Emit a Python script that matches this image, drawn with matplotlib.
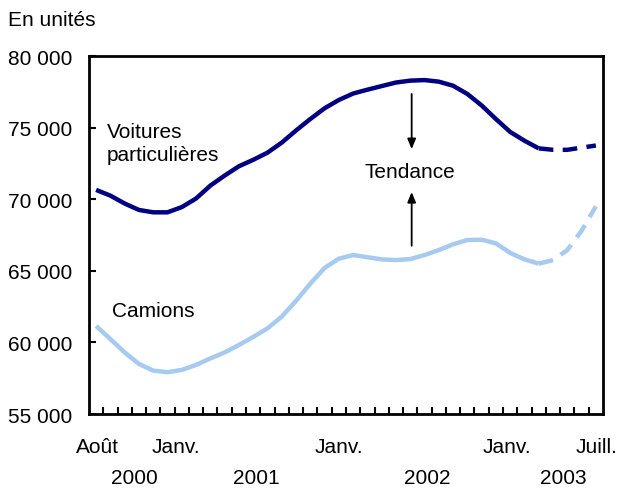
import matplotlib
matplotlib.use("Agg")
import matplotlib.pyplot as plt
import matplotlib.transforms as mtransforms

plt.rcParams['font.family'] = ['Liberation Sans', 'DejaVu Sans']

# monthly trend, Aug 2000 .. Jul 2003 (last months are projected -> dashed)
voitures = [70650, 70250, 69700, 69250, 69085, 69085, 69450, 70050, 70950, 71650,
            72300, 72750, 73250, 73950, 74800, 75600, 76350, 76930, 77380, 77650,
            77900, 78150, 78280, 78320, 78210, 77925, 77350, 76550, 75600, 74700,
            74085, 73550, 73450, 73450, 73600, 73750]
camions = [61150, 60230, 59300, 58500, 58030, 57920, 58080, 58430, 58880, 59300,
           59820, 60380, 60980, 61800, 62900, 64100, 65200, 65850, 66100, 65950,
           65800, 65750, 65820, 66100, 66450, 66850, 67150, 67170, 66920, 66250,
           65800, 65500, 65750, 66450, 67800, 69500]
n_solid = 32  # points drawn solid, rest dashed

month_labels = ["Août", "Janv.", "Janv.", "Janv.", "Juill."]
month_pos = [0.06, 5.6, 17, 28.8, 35.05]
year_labels = ["2000", "2001", "2002", "2003"]
year_pos = [2.7, 11.2, 23.2, 32.7]
yticks = [55000, 60000, 65000, 70000, 75000, 80000]

dark = '#000080'
light = '#A6CAF0'
fs = 15

fig = plt.figure(figsize=(6.17, 4.89), dpi=100)
ax = fig.add_axes([0.1442, 0.1513, 0.8331, 0.7321])

x = list(range(len(voitures)))
for data, col in [(voitures, dark), (camions, light)]:
    ax.plot(x[:n_solid], data[:n_solid], color=col, lw=3.2, solid_capstyle='butt')
    ax.plot(x[n_solid - 1:], data[n_solid - 1:], color=col, lw=3.2,
            dashes=(3.3, 2.1), dash_capstyle='butt')

ax.set_xlim(-0.5, 35.5)
ax.set_ylim(55000, 80000)
ax.set_yticks(yticks)
ax.set_yticklabels([f"{v:,}".replace(",", " ") for v in yticks])
ax.tick_params(axis='y', direction='in', length=5, width=1.5, pad=12, labelsize=fs)

# tick marks between months, labels placed separately
ax.set_xticks([k - 0.5 for k in range(1, 36)])
ax.set_xticklabels([])
ax.tick_params(axis='x', direction='in', length=5, width=1.5)
for sp in ax.spines.values():
    sp.set_linewidth(2)

trans = mtransforms.blended_transform_factory(ax.transData, ax.transAxes)
for lab, p in zip(month_labels, month_pos):
    ax.text(p, -0.106, lab, transform=trans, ha='center', va='baseline', fontsize=fs)
for lab, p in zip(year_labels, year_pos):
    ax.text(p, -0.192, lab, transform=trans, ha='center', va='baseline', fontsize=fs)

fig.text(8 / 617, 1 - 20 / 489, "En unités", ha='left', va='center', fontsize=fs)

ax.text(0.76, 73925, "Voitures\nparticulières", ha='left', va='center',
        fontsize=fs, linespacing=1.3)
ax.text(1.14, 62214, "Camions", ha='left', va='center', fontsize=fs)
ax.text(22.0, 71920, "Tendance", ha='center', va='center', fontsize=fs)

arrow = dict(arrowstyle='-|>,head_length=0.6,head_width=0.25', color='black',
             lw=1.3, shrinkA=0, shrinkB=0)
ax.annotate("", xy=(22.1, 73500), xytext=(22.1, 77350), arrowprops=arrow)
ax.annotate("", xy=(22.1, 70500), xytext=(22.1, 66750), arrowprops=arrow)

fig.savefig("out.png", dpi=100)
